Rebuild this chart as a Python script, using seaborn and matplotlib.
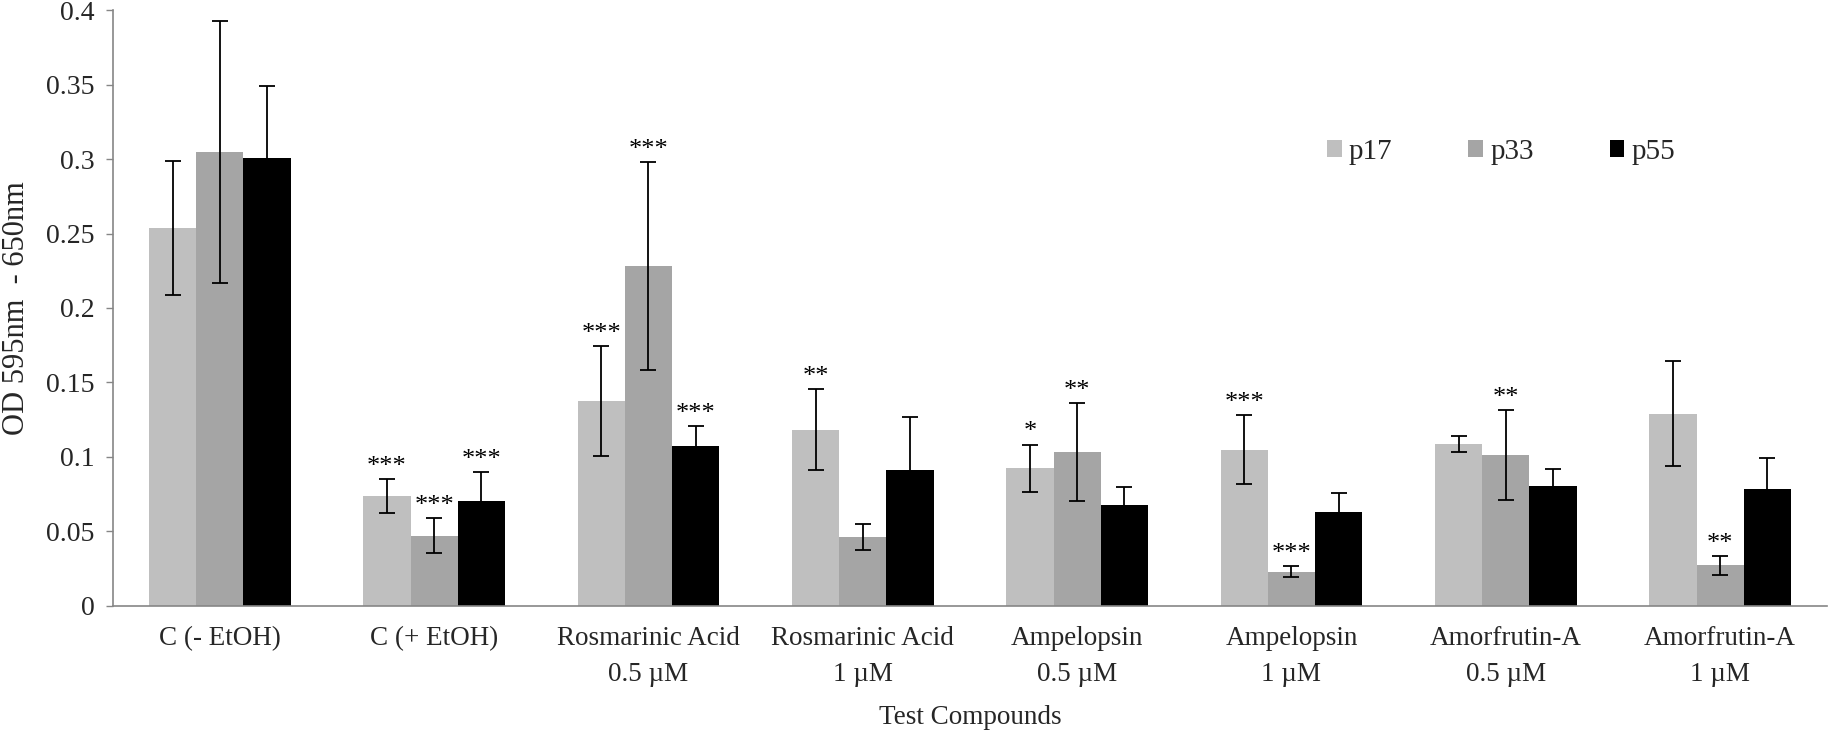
import matplotlib
matplotlib.use("Agg")
import matplotlib.pyplot as plt
import seaborn as sns
import pandas as pd
import numpy as np

# ---- data ----
categories = ["C (- EtOH)", "C (+ EtOH)", "Rosmarinic Acid\n0.5 µM", "Rosmarinic Acid\n1 µM",
              "Ampelopsin\n0.5 µM", "Ampelopsin\n1 µM", "Amorfrutin-A\n0.5 µM", "Amorfrutin-A\n1 µM"]
series_names = ["p17", "p33", "p55"]

p17 = [0.2535, 0.0738, 0.1376, 0.1181, 0.0921, 0.1048, 0.1087, 0.1290]
p17_err = [0.045, 0.0113, 0.0368, 0.0273, 0.0160, 0.0233, 0.0053, 0.0354]
p33 = [0.3050, 0.0470, 0.2281, 0.0460, 0.1030, 0.0226, 0.1012, 0.0270]
p33_err = [0.088, 0.0120, 0.0700, 0.0085, 0.0330, 0.0037, 0.0300, 0.0065]
p55 = [0.3005, 0.0703, 0.1069, 0.0908, 0.0676, 0.0627, 0.0806, 0.0785]
p55_err = [0.0487, 0.0195, 0.0138, 0.0356, 0.0120, 0.0130, 0.0110, 0.0206]

p17_sig = ["", "***", "***", "**", "*", "***", "", ""]
p33_sig = ["", "***", "***", "", "**", "***", "**", "**"]
p55_sig = ["", "***", "***", "", "", "", "", ""]

yticks = [0, 0.05, 0.1, 0.15, 0.2, 0.25, 0.3, 0.35, 0.4]
ytick_labels = ["0", "0.05", "0.1", "0.15", "0.2", "0.25", "0.3", "0.35", "0.4"]

colors = ["#bfbfbf", "#a5a5a5", "#000000"]

values = [p17, p33, p55]
errors = [p17_err, p33_err, p55_err]
sigs = [p17_sig, p33_sig, p55_sig]

df = pd.DataFrame({
    "Compound": categories * 3,
    "Series": sum([[s] * len(categories) for s in series_names], []),
    "Value": p17 + p33 + p55,
})

# ---- style ----
sns.set_style("white")
plt.rcParams["font.family"] = ["Liberation Serif", "DejaVu Serif"]
FS = 19.5

fig, ax = plt.subplots(figsize=(18.31, 7.34), dpi=100)
fig.subplots_adjust(left=0.0615, right=0.998, bottom=0.175, top=0.986)

sns.barplot(data=df, x="Compound", y="Value", hue="Series", order=categories,
            hue_order=series_names, palette=colors, width=0.66, errorbar=None,
            saturation=1, linewidth=0, ax=ax)

for cont, vals, errs, sg in zip(ax.containers, values, errors, sigs):
    xs = [p.get_x() + p.get_width() / 2 for p in cont.patches]
    ax.errorbar(xs, vals, yerr=errs, fmt="none", ecolor="black", elinewidth=1.3,
                capsize=6, capthick=1.3, zorder=5)
    for x, v, e, s in zip(xs, vals, errs, sg):
        if s:
            ax.text(x, v + e + 0.0008, s, ha="center", va="bottom", fontsize=19,
                    color="black", zorder=6)

ax.set_xlim(-0.5, len(categories) - 0.5)
ax.set_ylim(0, 0.4)
ax.set_yticks(yticks)
ax.set_yticklabels(ytick_labels, fontsize=20)
ax.set_xticks(range(len(categories)))
ax.set_xticklabels(categories, fontsize=FS, linespacing=1.55)
ax.tick_params(axis="x", length=0, pad=15)
ax.tick_params(axis="y", length=5, width=1, color="#868686", left=True, pad=8)

ax.set_xlabel("Test Compounds", fontsize=FS, labelpad=13)
ax.set_ylabel("OD 595nm  - 650nm", fontsize=22, labelpad=11)

for side in ["top", "right"]:
    ax.spines[side].set_visible(False)
for side in ["left", "bottom"]:
    ax.spines[side].set_color("#868686")
    ax.spines[side].set_linewidth(1.2)

leg = ax.legend(loc="center left", bbox_to_anchor=(0.693, 0.762), ncol=3, frameon=False,
                fontsize=21, handlelength=0.5, handleheight=0.5,
                handletextpad=0.25, columnspacing=2.6)

fig.savefig("out.png", dpi=100)
